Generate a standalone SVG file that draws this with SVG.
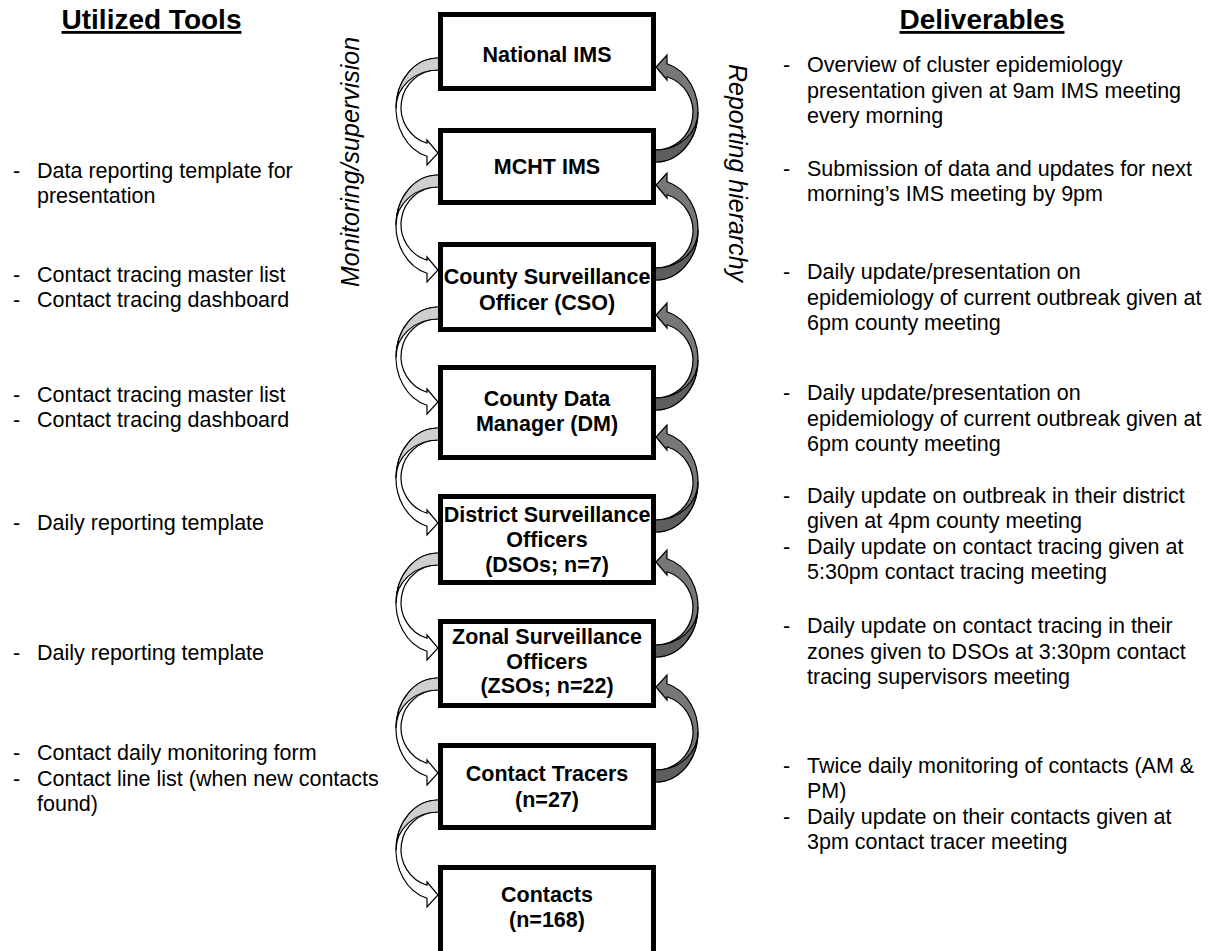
<svg xmlns="http://www.w3.org/2000/svg" xmlns:xlink="http://www.w3.org/1999/xlink" width="1221" height="951" viewBox="0 0 1221 951">
  <style>
    text { font-family: "Liberation Sans", Arial, sans-serif; fill: #000; }
    .head { font-size: 28px; font-weight: bold; text-decoration: underline; text-anchor: middle; }
    .item { font-size: 21.5px; }
    .side { font-size: 25px; font-style: italic; text-anchor: middle; }
    .box rect { fill: #fff; stroke: #000; stroke-width: 5; }
    .box text { font-size: 21.5px; font-weight: bold; text-anchor: middle; }
    .arr { stroke: #000; stroke-width: 1.2; stroke-linejoin: miter; }
    .down-body { fill: #fff; }
    .down-back { fill: #cfcfcf; }
    .up-body { fill: #777777; }
    .up-back { fill: #5e5e5e; }
  </style>
  <defs>
    <!-- curled ribbon arrow: tail at (0,0)-(0,12), head tip at (0,95), bulging to x=-42 -->
    <path id="arrow-body" d="M 3,0 L 0,0 A 42 50 0 0 0 -11,98.26 L -11,107 L 0,95 L -11,82 L -11,85.3 A 37 37.5 0 0 1 0,12 L 3,12 Z"/>
    <path id="arrow-back" d="M 3,0 L 0,0 A 42 50 0 0 0 -42,50 A 42 38 0 0 1 0,12 L 3,12 Z"/>
  </defs>

  <rect width="1221" height="951" fill="#fff"/>

  <!-- column headings -->
  <text class="head" x="151.5" y="29">Utilized Tools</text>
  <text class="head" x="982" y="29">Deliverables</text>

  <!-- side labels -->
  <text class="side" transform="translate(359,162) rotate(-90)">Monitoring/supervision</text>
  <text class="side" transform="translate(729,173) rotate(90)">Reporting hierarchy</text>

  <!-- connectors -->
  <g id="connectors">
    <g id="monitoring-arrows">
      <g transform="translate(438,58)"><use xlink:href="#arrow-body" class="arr down-body"/><use xlink:href="#arrow-back" class="arr down-back"/></g>
      <g transform="translate(438,175)"><use xlink:href="#arrow-body" class="arr down-body"/><use xlink:href="#arrow-back" class="arr down-back"/></g>
      <g transform="translate(438,307)"><use xlink:href="#arrow-body" class="arr down-body"/><use xlink:href="#arrow-back" class="arr down-back"/></g>
      <g transform="translate(438,428)"><use xlink:href="#arrow-body" class="arr down-body"/><use xlink:href="#arrow-back" class="arr down-back"/></g>
      <g transform="translate(438,553)"><use xlink:href="#arrow-body" class="arr down-body"/><use xlink:href="#arrow-back" class="arr down-back"/></g>
      <g transform="translate(438,678)"><use xlink:href="#arrow-body" class="arr down-body"/><use xlink:href="#arrow-back" class="arr down-back"/></g>
      <g transform="translate(438,800)"><use xlink:href="#arrow-body" class="arr down-body"/><use xlink:href="#arrow-back" class="arr down-back"/></g>
    </g>
    <g id="reporting-arrows">
      <g transform="translate(656,162) rotate(180)"><use xlink:href="#arrow-body" class="arr up-body"/><use xlink:href="#arrow-back" class="arr up-back"/></g>
      <g transform="translate(656,280) rotate(180)"><use xlink:href="#arrow-body" class="arr up-body"/><use xlink:href="#arrow-back" class="arr up-back"/></g>
      <g transform="translate(656,410) rotate(180)"><use xlink:href="#arrow-body" class="arr up-body"/><use xlink:href="#arrow-back" class="arr up-back"/></g>
      <g transform="translate(656,532) rotate(180)"><use xlink:href="#arrow-body" class="arr up-body"/><use xlink:href="#arrow-back" class="arr up-back"/></g>
      <g transform="translate(656,657) rotate(180)"><use xlink:href="#arrow-body" class="arr up-body"/><use xlink:href="#arrow-back" class="arr up-back"/></g>
      <g transform="translate(656,782) rotate(180)"><use xlink:href="#arrow-body" class="arr up-body"/><use xlink:href="#arrow-back" class="arr up-back"/></g>
    </g>
  </g>

  <!-- hierarchy nodes -->
  <g id="national-ims" class="box">
    <rect x="440.5" y="14.5" width="213" height="74"/>
    <text x="547" y="62">National IMS</text>
  </g>
  <g id="mcht-ims" class="box">
    <rect x="440.5" y="130.5" width="213" height="72"/>
    <text x="547" y="173.5">MCHT IMS</text>
  </g>
  <g id="cso" class="box">
    <rect x="440.5" y="244.5" width="213" height="85"/>
    <text x="547" y="284">County Surveillance</text>
    <text x="547" y="310">Officer (CSO)</text>
  </g>
  <g id="dm" class="box">
    <rect x="440.5" y="367.5" width="213" height="90"/>
    <text x="547" y="406">County Data</text>
    <text x="547" y="431">Manager (DM)</text>
  </g>
  <g id="dsos" class="box">
    <rect x="440.5" y="496.5" width="213" height="86"/>
    <text x="547" y="522">District Surveillance</text>
    <text x="547" y="547">Officers</text>
    <text x="547" y="572">(DSOs; n=7)</text>
  </g>
  <g id="zsos" class="box">
    <rect x="440.5" y="621.5" width="213" height="84"/>
    <text x="547" y="644">Zonal Surveillance</text>
    <text x="547" y="669">Officers</text>
    <text x="547" y="693">(ZSOs; n=22)</text>
  </g>
  <g id="contact-tracers" class="box">
    <rect x="440.5" y="745.5" width="213" height="82"/>
    <text x="547" y="781">Contact Tracers</text>
    <text x="547" y="807">(n=27)</text>
  </g>
  <g id="contacts" class="box">
    <rect x="440.5" y="867.5" width="213" height="88"/>
    <text x="547" y="902">Contacts</text>
    <text x="547" y="927">(n=168)</text>
  </g>

  <!-- utilized tools -->
  <g id="tools" class="item">
    <text x="13" y="178">-</text><text x="37" y="178">Data reporting template for</text>
    <text x="37" y="203">presentation</text>

    <text x="13" y="282">-</text><text x="37" y="282">Contact tracing master list</text>
    <text x="13" y="307">-</text><text x="37" y="307">Contact tracing dashboard</text>

    <text x="13" y="402">-</text><text x="37" y="402">Contact tracing master list</text>
    <text x="13" y="427">-</text><text x="37" y="427">Contact tracing dashboard</text>

    <text x="13" y="530">-</text><text x="37" y="530">Daily reporting template</text>

    <text x="13" y="660">-</text><text x="37" y="660">Daily reporting template</text>

    <text x="13" y="760">-</text><text x="37" y="760">Contact daily monitoring form</text>
    <text x="13" y="786">-</text><text x="37" y="786">Contact line list (when new contacts</text>
    <text x="37" y="811">found)</text>
  </g>

  <!-- deliverables -->
  <g id="deliverables" class="item">
    <text x="783" y="72">-</text><text x="807" y="72">Overview of cluster epidemiology</text>
    <text x="807" y="98">presentation given at 9am IMS meeting</text>
    <text x="807" y="123">every morning</text>

    <text x="783" y="176">-</text><text x="807" y="176">Submission of data and updates for next</text>
    <text x="807" y="201">morning’s IMS meeting by 9pm</text>

    <text x="783" y="279">-</text><text x="807" y="279">Daily update/presentation on</text>
    <text x="807" y="305">epidemiology of current outbreak given at</text>
    <text x="807" y="330">6pm county meeting</text>

    <text x="783" y="400">-</text><text x="807" y="400">Daily update/presentation on</text>
    <text x="807" y="426">epidemiology of current outbreak given at</text>
    <text x="807" y="451">6pm county meeting</text>

    <text x="783" y="503">-</text><text x="807" y="503">Daily update on outbreak in their district</text>
    <text x="807" y="528">given at 4pm county meeting</text>
    <text x="783" y="554">-</text><text x="807" y="554">Daily update on contact tracing given at</text>
    <text x="807" y="579">5:30pm contact tracing meeting</text>

    <text x="783" y="633">-</text><text x="807" y="633">Daily update on contact tracing in their</text>
    <text x="807" y="659">zones given to DSOs at 3:30pm contact</text>
    <text x="807" y="684">tracing supervisors meeting</text>

    <text x="783" y="773">-</text><text x="807" y="773">Twice daily monitoring of contacts (AM &amp;</text>
    <text x="807" y="798">PM)</text>
    <text x="783" y="824">-</text><text x="807" y="824">Daily update on their contacts given at</text>
    <text x="807" y="849">3pm contact tracer meeting</text>
  </g>
</svg>
